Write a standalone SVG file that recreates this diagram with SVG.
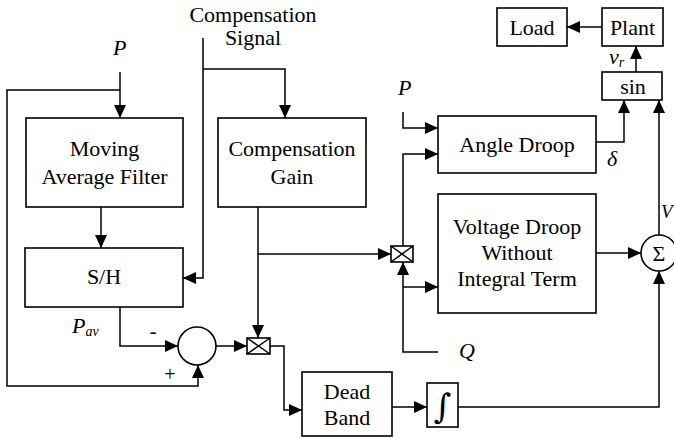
<svg xmlns="http://www.w3.org/2000/svg" width="674" height="438" viewBox="0 0 674 438">
<style>
.b{fill:#fff;stroke:#000;stroke-width:1.6}
.t{font-family:"Liberation Serif","Times New Roman",serif;font-size:22px;fill:#000;text-anchor:middle}
.i{font-family:"Liberation Serif","Times New Roman",serif;font-size:22px;font-style:italic;fill:#000}
.s{font-family:"Liberation Serif","Times New Roman",serif;font-size:14px;font-style:italic;fill:#000}
.c{fill:none;stroke:#000;stroke-width:1.5}
</style>
<defs>
<marker id="a" markerUnits="userSpaceOnUse" markerWidth="14" markerHeight="14" viewBox="0 0 14 14" refX="13" refY="7" orient="auto">
<path d="M0,1 L13,7 L0,13 Z" fill="#000"/>
</marker>
</defs>
<rect width="674" height="438" fill="#fff"/>
<g id="connectors" class="c">
<path d="M120,72 V118" marker-end="url(#a)"/>
<path d="M120,90 H7 V386 H198 V365" marker-end="url(#a)"/>
<path d="M203,38 V278 H183" marker-end="url(#a)"/>
<path d="M203,69 H285 V118" marker-end="url(#a)"/>
<path d="M101,207 V248" marker-end="url(#a)"/>
<path d="M120,307 V346 H178" marker-end="url(#a)"/>
<path d="M216,346 H247" marker-end="url(#a)"/>
<path d="M258,207 V338" marker-end="url(#a)"/>
<path d="M258,254 H391" marker-end="url(#a)"/>
<path d="M270,346 H284 V410 H302" marker-end="url(#a)"/>
<path d="M392,407 H427" marker-end="url(#a)"/>
<path d="M458,407 H659 V271" marker-end="url(#a)"/>
<path d="M438,352 H403 V262" marker-end="url(#a)"/>
<path d="M403,287 H438" marker-end="url(#a)"/>
<path d="M403,246 V154 H438" marker-end="url(#a)"/>
<path d="M403,112 V128 H438" marker-end="url(#a)"/>
<path d="M596,142 H624 V100" marker-end="url(#a)"/>
<path d="M596,253 H641" marker-end="url(#a)"/>
<path d="M659,235 V100" marker-end="url(#a)"/>
<path d="M636,72 V46" marker-end="url(#a)"/>
<path d="M602,27 H567" marker-end="url(#a)"/>
</g>
<g id="maf"><rect class="b" x="26" y="118" width="157" height="89"/><text class="t" x="104.5" y="156">Moving</text><text class="t" x="104.5" y="184">Average Filter</text></g>
<g id="compgain"><rect class="b" x="218" y="118" width="148" height="89"/><text class="t" x="292" y="156">Compensation</text><text class="t" x="292" y="184">Gain</text></g>
<g id="sh"><rect class="b" x="25" y="248" width="158" height="59"/><text class="t" x="104" y="284">S/H</text></g>
<g id="sum1"><circle class="b" cx="197" cy="346" r="19"/></g>
<g id="mult1"><rect class="b" x="247" y="338" width="23" height="16"/><path class="c" d="M247,338 L270,354 M270,338 L247,354"/></g>
<g id="deadband"><rect class="b" x="302" y="372" width="90" height="64"/><text class="t" x="347" y="399">Dead</text><text class="t" x="347" y="425">Band</text></g>
<g id="integrator"><rect class="b" x="427" y="383" width="31" height="44"/><text x="442.5" y="418" style="font-family:'DejaVu Serif','Liberation Serif',serif;font-size:34px;text-anchor:middle">∫</text></g>
<g id="mult2"><rect class="b" x="391" y="246" width="22" height="16"/><path class="c" d="M391,246 L413,262 M413,246 L391,262"/></g>
<g id="angledroop"><rect class="b" x="438" y="116" width="158" height="57"/><text class="t" x="517" y="152">Angle Droop</text></g>
<g id="voltagedroop"><rect class="b" x="438" y="194" width="158" height="119"/><text class="t" x="517" y="234">Voltage Droop</text><text class="t" x="517" y="260">Without</text><text class="t" x="517" y="286">Integral Term</text></g>
<g id="sigma"><circle class="b" cx="659" cy="253" r="18"/><text class="t" x="659" y="261">Σ</text></g>
<g id="sin"><rect class="b" x="602" y="72" width="60" height="28"/><text class="t" x="633" y="94">sin</text></g>
<g id="plant"><rect class="b" x="602" y="8" width="61" height="38"/><text class="t" x="632.5" y="35">Plant</text></g>
<g id="load"><rect class="b" x="497" y="8" width="70" height="38"/><text class="t" x="532" y="35">Load</text></g>
<g id="labels">
<text class="t" x="253" y="22">Compensation</text>
<text class="t" x="253" y="45">Signal</text>
<text class="i" x="113" y="55">P</text>
<text class="i" x="398" y="95">P</text>
<text class="i" x="72" y="333">P<tspan class="s" dy="3" font-size="14">av</tspan></text>
<text class="t" x="153" y="338" style="font-size:20px">-</text>
<text class="t" x="170" y="381" style="font-size:20px">+</text>
<text class="i" x="607" y="166">δ</text>
<text class="i" x="609" y="64">v<tspan class="s" dy="3">r</tspan></text>
<text class="i" x="459" y="358">Q</text>
<text class="i" x="661" y="218" style="font-size:19px">V</text>
</g>
</svg>
